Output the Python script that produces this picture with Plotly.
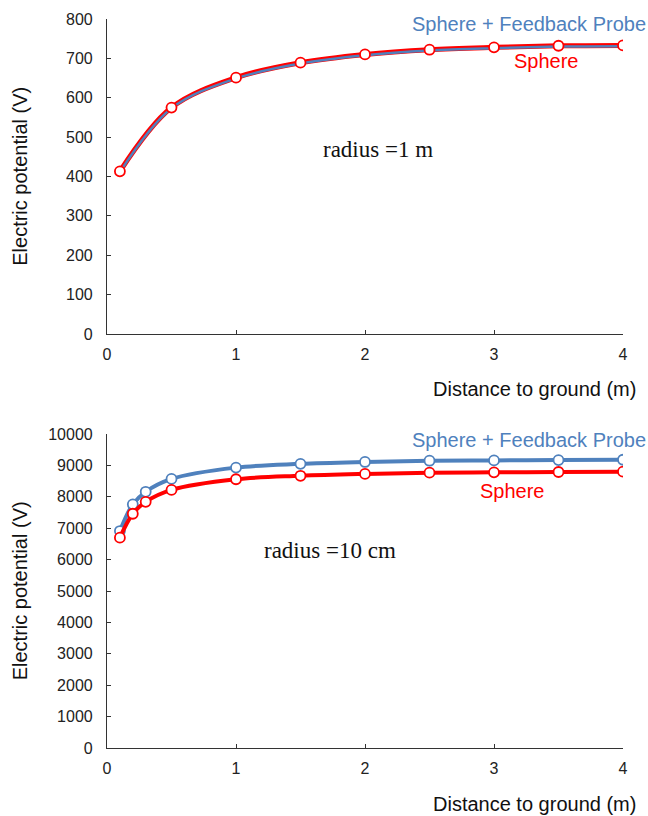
import plotly.graph_objects as go

# ---- data ----
x_top = [0.1, 0.5, 1, 1.5, 2, 2.5, 3, 3.5, 4]
top_sphere = [413, 575, 651, 689, 710, 722, 728, 732, 733]
top_probe = [411, 573, 649, 687, 708, 720, 726, 730, 731]

x_bot = [0.1, 0.2, 0.3, 0.5, 1, 1.5, 2, 2.5, 3, 3.5, 4]
bot_sphere = [6700, 7460, 7840, 8220, 8560, 8670, 8730, 8770, 8780, 8790, 8800]
bot_probe = [6910, 7760, 8160, 8570, 8930, 9050, 9110, 9150, 9160, 9170, 9180]

x_ticks = [0, 1, 2, 3, 4]
top_yticks = [0, 100, 200, 300, 400, 500, 600, 700, 800]
bot_yticks = [0, 1000, 2000, 3000, 4000, 5000, 6000, 7000, 8000, 9000, 10000]

RED = "#FF0000"
BLUE = "#4F81BD"
FONT = "Liberation Sans, Arial, sans-serif"
SERIF = "Liberation Serif, Times New Roman, serif"

fig = go.Figure()

# top chart
fig.add_trace(go.Scatter(x=x_top, y=top_sphere, mode="lines", line=dict(color=RED, width=5, shape="spline"),
                         xaxis="x", yaxis="y", showlegend=False, hoverinfo="skip"))
fig.add_trace(go.Scatter(x=x_top, y=top_probe, mode="lines", line=dict(color=BLUE, width=2.5, shape="spline"),
                         xaxis="x", yaxis="y", showlegend=False))
fig.add_trace(go.Scatter(x=x_top, y=top_sphere, mode="markers",
                         marker=dict(size=10, color="white", line=dict(color=RED, width=1.8)),
                         xaxis="x", yaxis="y", showlegend=False))

# bottom chart
fig.add_trace(go.Scatter(x=x_bot, y=bot_probe, mode="lines+markers", line=dict(color=BLUE, width=4, shape="spline"),
                         marker=dict(size=10, color="white", line=dict(color=BLUE, width=1.8)),
                         xaxis="x2", yaxis="y2", showlegend=False))
fig.add_trace(go.Scatter(x=x_bot, y=bot_sphere, mode="lines+markers", line=dict(color=RED, width=4, shape="spline"),
                         marker=dict(size=10, color="white", line=dict(color=RED, width=1.8)),
                         xaxis="x2", yaxis="y2", showlegend=False))

axis_common = dict(showgrid=False, zeroline=False, showline=True, linecolor="#333333", linewidth=1.2,
                   ticks="inside", ticklen=4, tickcolor="#333333",
                   tickfont=dict(family=FONT, size=16, color="#222222"))

fig.update_layout(
    width=648, height=816,
    margin=dict(l=107, r=25, t=19, b=68),
    paper_bgcolor="white", plot_bgcolor="white",
    xaxis=dict(domain=[0, 1], range=[0, 4], tickvals=x_ticks, anchor="y", ticklabelstandoff=6, **axis_common),
    yaxis=dict(domain=[0.568, 1.0], range=[0, 800], tickvals=top_yticks, anchor="x", ticklabelstandoff=10,
               tickformat="d", **axis_common),
    xaxis2=dict(domain=[0, 1], range=[0, 4], tickvals=x_ticks, anchor="y2", ticklabelstandoff=6, **axis_common),
    yaxis2=dict(domain=[0, 0.4307], range=[0, 10000], tickvals=bot_yticks, anchor="x2", ticklabelstandoff=10,
                tickformat="d", **axis_common),
)

ann = []
# axis titles
for yc in [(0.568 + 1.0) / 2, 0.4307 / 2]:
    ann.append(dict(text="Electric potential (V)", xref="paper", yref="paper", x=-0.168, y=yc,
                    xanchor="center", yanchor="middle", textangle=-90, showarrow=False,
                    font=dict(family=FONT, size=20, color="#111111")))
ann.append(dict(text="Distance to ground (m)", xref="paper", yref="paper", x=(638 - 107) / 516, y=(748 - 389) / 729,
                xanchor="right", yanchor="middle", showarrow=False, font=dict(family=FONT, size=20, color="#111111")))
ann.append(dict(text="Distance to ground (m)", xref="paper", yref="paper", x=(638 - 107) / 516, y=(748 - 804) / 729,
                xanchor="right", yanchor="middle", showarrow=False, font=dict(family=FONT, size=20, color="#111111")))
# series labels
ann.append(dict(text="Sphere + Feedback Probe", xref="paper", yref="paper", x=(648 - 107) / 516, y=(748 - 24) / 729,
                xanchor="right", yanchor="middle", showarrow=False, font=dict(family=FONT, size=20, color=BLUE)))
ann.append(dict(text="Sphere", xref="paper", yref="paper", x=(546 - 107) / 516, y=(748 - 61) / 729,
                xanchor="center", yanchor="middle", showarrow=False, font=dict(family=FONT, size=20, color=RED)))
ann.append(dict(text="Sphere + Feedback Probe", xref="paper", yref="paper", x=(648 - 107) / 516, y=(748 - 440) / 729,
                xanchor="right", yanchor="middle", showarrow=False, font=dict(family=FONT, size=20, color=BLUE)))
ann.append(dict(text="Sphere", xref="paper", yref="paper", x=(512 - 107) / 516, y=(748 - 491) / 729,
                xanchor="center", yanchor="middle", showarrow=False, font=dict(family=FONT, size=20, color=RED)))
# radius notes
ann.append(dict(text="radius =1 m", xref="paper", yref="paper", x=(378 - 107) / 516, y=(748 - 149) / 729,
                xanchor="center", yanchor="middle", showarrow=False,
                font=dict(family=SERIF, size=23, color="#111111")))
ann.append(dict(text="radius =10 cm", xref="paper", yref="paper", x=(330 - 107) / 516, y=(748 - 550) / 729,
                xanchor="center", yanchor="middle", showarrow=False,
                font=dict(family=SERIF, size=23, color="#111111")))
fig.update_layout(annotations=ann)

fig.write_html("out.html", config={"displayModeBar": False},
               post_script="document.body.style.margin='0';document.body.style.overflow='hidden';")
